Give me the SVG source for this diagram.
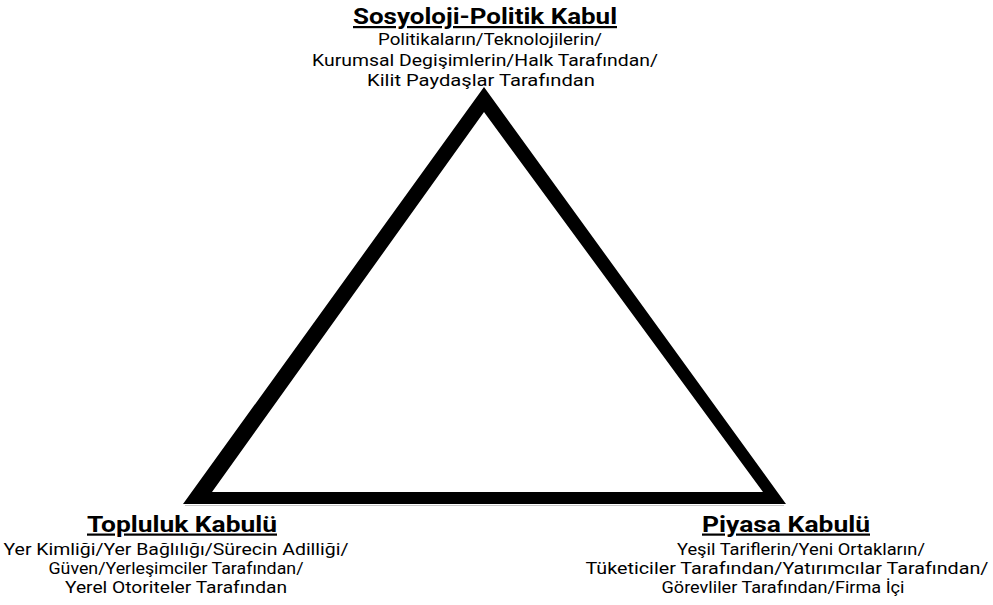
<svg xmlns="http://www.w3.org/2000/svg" width="993" height="605" viewBox="0 0 993 605">
<style>
.t{font-family:Roboto,"Liberation Sans",sans-serif;font-weight:bold;font-size:22px;fill:#000;text-decoration:underline;text-anchor:middle}
.s{font-family:Roboto,"Liberation Sans",sans-serif;font-size:17px;fill:#000;text-anchor:middle}
</style>
<rect width="993" height="605" fill="#fff"/>
<g id="connectors">
<path d="M484,87 L183,504 L786,504 Z M484,112 L763,492 L212,492 Z" fill="#000" fill-rule="evenodd"/>
<line x1="185" y1="505.5" x2="784" y2="505.5" stroke="#c8c8c8" stroke-width="1"/>
</g>
<g id="node-top">
<text class="t" x="485" y="24" textLength="264" lengthAdjust="spacingAndGlyphs">Sosyoloji-Politik Kabul</text>
<text class="s" x="490" y="45" textLength="224" lengthAdjust="spacingAndGlyphs">Politikaların/Teknolojilerin/</text>
<text class="s" x="485" y="65.5" textLength="346" lengthAdjust="spacingAndGlyphs">Kurumsal Degişimlerin/Halk Tarafından/</text>
<text class="s" x="481" y="86" textLength="228" lengthAdjust="spacingAndGlyphs">Kilit Paydaşlar Tarafından</text>
</g>
<g id="node-left">
<text class="t" x="182" y="531.5" textLength="190" lengthAdjust="spacingAndGlyphs">Topluluk Kabulü</text>
<text class="s" x="176" y="555" textLength="345" lengthAdjust="spacingAndGlyphs">Yer Kimliği/Yer Bağlılığı/Sürecin Adilliği/</text>
<text class="s" x="176" y="574" textLength="255" lengthAdjust="spacingAndGlyphs">Güven/Yerleşimciler Tarafından/</text>
<text class="s" x="176" y="592.5" textLength="222" lengthAdjust="spacingAndGlyphs">Yerel Otoriteler Tarafından</text>
</g>
<g id="node-right">
<text class="t" x="786" y="531.5" textLength="168" lengthAdjust="spacingAndGlyphs">Piyasa Kabulü</text>
<text class="s" x="801" y="555" textLength="248" lengthAdjust="spacingAndGlyphs">Yeşil Tariflerin/Yeni Ortakların/</text>
<text class="s" x="787" y="574" textLength="403" lengthAdjust="spacingAndGlyphs">Tüketiciler Tarafından/Yatırımcılar Tarafından/</text>
<text class="s" x="783" y="592.5" textLength="243" lengthAdjust="spacingAndGlyphs">Görevliler Tarafından/Firma İçi</text>
</g>
</svg>
